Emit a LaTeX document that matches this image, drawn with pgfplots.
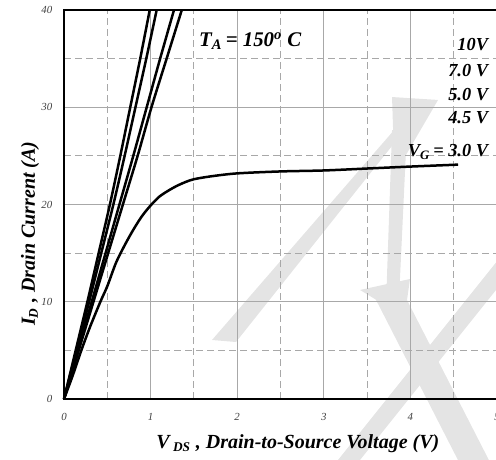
\documentclass[border=0pt]{standalone}
\usepackage{fontspec}
\setmainfont{Liberation Serif}
\usepackage{pgfplots}
\pgfplotsset{compat=1.18}
\usetikzlibrary{calc}
\definecolor{wmark}{HTML}{E4E4E4}
\definecolor{gridc}{HTML}{A8A8A8}

\begin{document}
\begin{tikzpicture}
\begin{axis}[
    name=ax,
    set layers,
    scale only axis,
    width=259.8pt, height=233.4pt,
    xmin=0, xmax=5, ymin=0, ymax=40,
    xtick={0,1,2,3,4,5}, ytick={0,10,20,30,40},
    minor xtick={0.5,1.5,2.5,3.5,4.5},
    minor ytick={5,15,25,35},
    major tick length=0pt, minor tick length=0pt,
    grid=both,
    major grid style={gridc, line width=0.6pt},
    minor grid style={gridc, line width=0.6pt, dash pattern=on 4pt off 2.6pt},
    axis line style={black, line width=1.5pt},
    clip=false,
    /pgf/number format/assume math mode=true,
    ticklabel style={font=\fontsize{6.5}{7}\selectfont\itshape, text=black!75},
    yticklabel style={xshift=-3.5pt},
    xticklabel style={yshift=-5pt},
    label style={font=\fontsize{12}{14}\selectfont\bfseries\itshape},
    xlabel={V\,\textsubscript{DS} , Drain-to-Source Voltage (V)},
    ylabel={I\textsubscript{D} , Drain Current (A)},
    xlabel style={at={(axis description cs:0.54,-0.116)}, anchor=center},
    ylabel style={at={(axis description cs:-0.0785,0.425)}, anchor=center},
    wm/.style={draw=none, fill=wmark, on layer=axis background, forget plot},
]
% watermark, kept behind the grid
\addplot[wm] coordinates {(1.709,6.07) (1.986,5.86) (4.007,28.48) (3.892,28.48)} -- cycle;
\addplot[wm] coordinates {(3.788,31.05) (4.319,30.75) (3.915,24.58) (3.811,24.58)} -- cycle;
\addplot[wm] coordinates {(3.788,27.66) (3.960,27.66) (3.876,11.72) (3.726,11.72)} -- cycle;
\addplot[wm] coordinates {(3.418,11.21) (3.995,12.34) (3.961,10.18) (3.857,8.84)} -- cycle;
\addplot[wm] coordinates {(3.580,10.59) (3.937,10.59) (4.965,-7.30) (4.608,-7.30)} -- cycle;
\addplot[wm] coordinates {(5.104,15.32) (5.358,15.32) (3.326,-7.30) (3.072,-7.30)} -- cycle;

% V_G = 10 V
\addplot[black, line width=1.5pt, smooth] coordinates {
    (0,0) (0.135,5) (0.27,10) (0.40,15) (0.53,20) (0.65,25) (0.765,30) (0.88,35) (0.99,40)};
% V_G = 7.0 V
\addplot[black, line width=1.5pt, smooth] coordinates {
    (0,0) (0.145,5) (0.29,10) (0.43,15) (0.57,20) (0.70,25) (0.825,30) (0.95,35) (1.07,40)};
% V_G = 5.0 V
\addplot[black, line width=1.5pt, smooth] coordinates {
    (0,0) (0.16,5) (0.32,10) (0.48,15) (0.64,20) (0.80,25) (0.955,30) (1.11,35) (1.27,40)};
% V_G = 4.5 V
\addplot[black, line width=1.5pt, smooth] coordinates {
    (0,0) (0.17,5) (0.34,10) (0.51,15) (0.68,20) (0.85,25) (1.01,30) (1.185,35) (1.36,40)};
% V_G = 3.0 V
\addplot[black, line width=1.5pt, smooth] coordinates {
    (0,0) (0.1,2.4) (0.2,5) (0.3,7.4) (0.42,10) (0.5,11.6) (0.6,14) (0.7,15.8)
    (0.8,17.4) (0.9,18.8) (1.0,19.9) (1.1,20.8) (1.2,21.4) (1.3,21.9) (1.4,22.3)
    (1.5,22.6) (1.7,22.9) (2.0,23.2) (2.5,23.4) (3.0,23.5) (3.5,23.7) (4.0,23.9) (4.55,24.1)};

\node[font=\fontsize{12.5}{14}\selectfont\bfseries\itshape] at (axis cs:2.15,36.8)
    {T\textsubscript{A}\,= 150\textsuperscript{o} C};
\begin{scope}[every node/.style={anchor=east, font=\fontsize{11}{13}\selectfont\bfseries\itshape, inner sep=0pt}]
\node at (axis cs:4.90,36.4) {10V};
\node at (axis cs:4.90,33.8) {7.0 V};
\node at (axis cs:4.90,31.3) {5.0 V};
\node at (axis cs:4.90,28.9) {4.5 V};
\node at (axis cs:4.90,25.4) {V\textsubscript{G}\,= 3.0 V};
\end{scope}
\end{axis}
\pgfresetboundingbox
\path[use as bounding box] ($(ax.south west)+(-38.4pt,-36pt)$) rectangle ($(ax.north east)+(-0.6pt,6pt)$);
\end{tikzpicture}
\end{document}
